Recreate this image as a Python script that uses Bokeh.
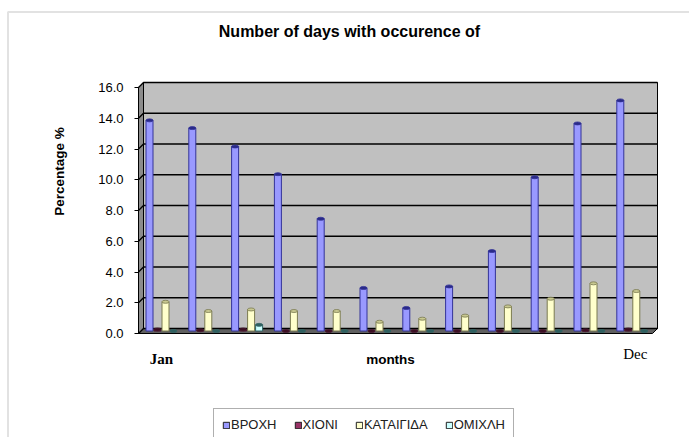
import math
import numpy as np
from bokeh.plotting import figure
from bokeh.models import (Range1d, FixedTicker, Label, Legend, LegendItem,
                          BoxAnnotation, PrintfTickFormatter)
from bokeh.embed import file_html
from bokeh.resources import INLINE

# ---------------- data ----------------
months = ["Jan", "Feb", "Mar", "Apr", "May", "Jun",
          "Jul", "Aug", "Sep", "Oct", "Nov", "Dec"]
series_names = ["ΒΡΟΧΗ", "ΧΙΟΝΙ", "ΚΑΤΑΙΓΙΔΑ", "ΟΜΙΧΛΗ"]
vroxi = [13.7, 13.2, 12.0, 10.2, 7.3, 2.8, 1.5, 2.9, 5.2, 10.0, 13.5, 15.0]
xioni = [0.1, 0.05, 0.1, 0.0, 0.0, 0.0, 0.0, 0.0, 0.0, 0.0, 0.05, 0.1]
kataigida = [1.9, 1.3, 1.4, 1.3, 1.3, 0.6, 0.8, 1.0, 1.6, 2.1, 3.1, 2.6]
omixli = [0.0, 0.0, 0.4, 0.0, 0.0, 0.0, 0.0, 0.0, 0.0, 0.0, 0.0, 0.0]
y_ticks = [0, 2, 4, 6, 8, 10, 12, 14, 16]
title_text = "Number of days with occurence of"
y_label = "Percentage %"
x_label = "months"

# ---------------- geometry / style ----------------
W, H = 689, 437
PX = 42.8      # pixels per month
PY = 15.375    # pixels per percent
X0PIX, Y0PIX = 161, 333   # page pixel of (Jan, 0)


def dx(px):  # page x pixel -> data x
    return (px - X0PIX) / PX


def dy(py):  # page y pixel -> data y
    return (Y0PIX - py) / PY


x_start, x_end = dx(0), dx(W)
y_start, y_end = dy(H), dy(0)
DX = 5 / PX    # 3-D depth offsets
DY = 5 / PY
x_axis_pos = dx(138)
x_wall = dx(657)
ymax = y_ticks[-1]

p = figure(width=W, height=H, output_backend="svg", toolbar_location=None,
           x_range=Range1d(x_start, x_end), y_range=Range1d(y_start, y_end),
           min_border=0, background_fill_color="white",
           border_fill_color="white")
p.outline_line_color = None
p.grid.visible = False
p.xaxis.visible = False
p.title.text = ""

yax = p.yaxis[0]
yax.fixed_location = x_axis_pos
yax.ticker = FixedTicker(ticks=y_ticks)
yax.formatter = PrintfTickFormatter(format="%.1f")
yax.bounds = (0, ymax)
yax.axis_line_color = "black"
yax.axis_line_width = 1
yax.major_tick_line_color = "black"
yax.major_tick_out = 4
yax.major_tick_in = 0
yax.minor_tick_line_color = None
yax.major_label_standoff = 11
yax.major_label_text_font = "Liberation Sans"
yax.major_label_text_font_size = "13px"
yax.major_label_text_color = "black"

# ---- 3D walls ----
x0 = x_axis_pos
p.patch([x0 + DX, x_wall, x_wall, x0 + DX], [DY, DY, ymax + DY, ymax + DY],
        fill_color="#C0C0C0", line_color="black", line_width=1)
p.patch([x0, x0 + DX, x0 + DX, x0], [0, DY, ymax + DY, ymax],
        fill_color="#8C8C8C", line_color="black", line_width=1)
p.patch([x0, x_wall - DX, x_wall, x0 + DX], [0, 0, DY, DY],
        fill_color="#606060", line_color="black", line_width=1)
gx = [[x0, x0 + DX, x_wall] for v in y_ticks]
gy = [[v, v + DY, v + DY] for v in y_ticks]
p.multi_line(gx, gy, line_color="black", line_width=1.4)

# ---- bars ----
offsets = [-12 / PX, -4 / PX, 4 / PX, 12 / PX]
fills = ["#9999FF", "#993366", "#FFFFCC", "#CCFFFF"]
lines = ["#333399", "#4d1a33", "#7a7a50", "#336666"]
caps = ["#2a2a88", "#3a0f22", "#c8c890", "#2f5f5f"]
series = [vroxi, xioni, kataigida, omixli]
bw = 7 / PX
nan1 = np.array([np.nan])
legend_renderers = []
for vals, off, fc, lc, cc in zip(series, offsets, fills, lines, caps):
    xs = [i + off for i in range(len(months))]
    tops = [v + DY / 2 for v in vals]
    p.vbar(x=xs, top=tops, bottom=DY / 2, width=bw, fill_color=fc,
           line_color=lc, line_width=1)
    p.ellipse(x=xs, y=tops, width=bw, height=3 / PY, fill_color=cc,
              line_color=lc, line_width=0.8)
    # swatch-only renderer (not drawn: NaN) used for the legend key
    legend_renderers.append(
        p.quad(left=nan1, right=nan1, top=nan1, bottom=nan1, fill_color=fc,
               line_color="#202020", line_width=1))

# ---- texts ----
def lab(**kw):
    l = Label(**kw)
    p.add_layout(l)
    return l


lab(x=dx(349), y=dy(31), text=title_text,
    text_align="center", text_baseline="middle", text_font="Liberation Sans",
    text_font_style="bold", text_font_size="16px", text_color="black")
lab(x=dx(59), y=dy(171), text=y_label, angle=math.pi / 2,
    text_align="center", text_baseline="middle", text_font="Liberation Sans",
    text_font_style="bold", text_font_size="13.5px", text_color="black")
lab(x=dx(390), y=dy(359), text=x_label,
    text_align="center", text_baseline="middle", text_font="Liberation Sans",
    text_font_style="bold", text_font_size="13.5px", text_color="black")
lab(x=0, y=dy(358), text=months[0],
    text_align="center", text_baseline="middle", text_font="Liberation Serif",
    text_font_style="bold", text_font_size="15px", text_color="black")
lab(x=len(months) - 1, x_offset=3, y=dy(353), text=months[-1],
    text_align="center", text_baseline="middle", text_font="Liberation Serif",
    text_font_size="15px", text_color="black")

# outer border
p.add_layout(BoxAnnotation(left=dx(7.5), right=dx(760), top=dy(11.5),
                           bottom=dy(520), fill_alpha=0,
                           line_color="#A0A0A0", line_width=2))

# ---- legend ----
legend = Legend(items=[LegendItem(label=n, renderers=[r], index=0)
                       for n, r in zip(series_names, legend_renderers)],
                orientation="horizontal", location=(213, H - 441),
                glyph_width=8, glyph_height=8, label_standoff=1,
                spacing=17, padding=8, label_height=14,
                label_text_font="Liberation Sans", label_text_font_size="13px",
                label_text_color="#202020",
                border_line_color="#606060", border_line_width=1,
                background_fill_color="white", background_fill_alpha=1)
p.add_layout(legend, "center")

open("out.html", "w").write(file_html(p, INLINE))
